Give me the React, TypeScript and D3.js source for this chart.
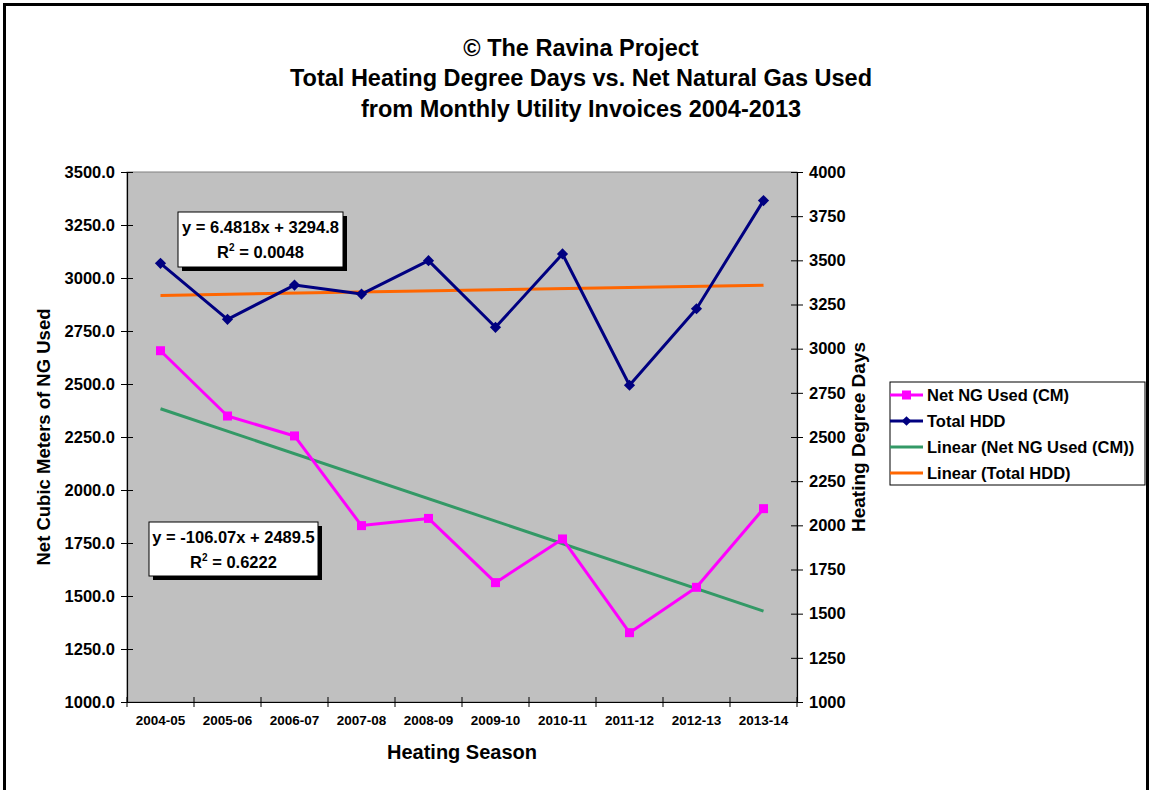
import * as d3 from "d3";
import React, { useEffect, useRef } from "react";

// heating seasons on the x axis
const seasons = ["2004-05", "2005-06", "2006-07", "2007-08", "2008-09", "2009-10", "2010-11", "2011-12", "2012-13", "2013-14"];
// net natural gas used, cubic meters (left axis)
const netNG = [2657, 2349, 2255, 1832, 1866, 1563, 1769, 1327, 1541, 1912];
// total heating degree days (right axis)
const totalHDD = [3483, 3166, 3360, 3309, 3498, 3121, 3536, 2793, 3226, 3838];

const leftTicks = [1000, 1250, 1500, 1750, 2000, 2250, 2500, 2750, 3000, 3250, 3500];
const rightTicks = [1000, 1250, 1500, 1750, 2000, 2250, 2500, 2750, 3000, 3250, 3500, 3750, 4000];

// excel trendline coefficients as printed on the chart
const ngTrend = [-106.07, 2489.5];
const hddTrend = [6.4818, 3294.8];

const legendNames = ["Net NG Used (CM)", "Total HDD", "Linear (Net NG Used (CM))", "Linear (Total HDD)"];
const colors = ["#ff00ff", "#000080", "#339966", "#ff6600"];

const FONT = "'Liberation Sans', Arial, Helvetica, sans-serif";

export default function App() {
    const ref = useRef<SVGSVGElement>(null);

    useEffect(() => {
        const svg = d3.select(ref.current);
        svg.selectAll("*").remove();

        const W = 1151, H = 790;
        const plot = { left: 127, right: 797, top: 172, bottom: 702 };

        svg.append("rect").attr("width", W).attr("height", H).attr("fill", "#fff");
        // outer chart border
        svg.append("rect").attr("x", 4.5).attr("y", 4.5).attr("width", 1143).attr("height", 800)
            .attr("fill", "none").attr("stroke", "#000").attr("stroke-width", 3);

        const titles = ["© The Ravina Project", "Total Heating Degree Days vs. Net Natural Gas Used", "from Monthly Utility Invoices 2004-2013"];
        svg.append("g").selectAll("text").data(titles).enter().append("text")
            .attr("x", 581).attr("y", (d, i) => 55.5 + i * 30.5)
            .attr("text-anchor", "middle")
            .style("font", `bold 23.5px ${FONT}`)
            .text(d => d);

        const x = d3.scaleBand<string>().domain(seasons).range([plot.left, plot.right]).padding(0);
        const yL = d3.scaleLinear().domain([1000, 3500]).range([plot.bottom, plot.top]);
        const yR = d3.scaleLinear().domain([1000, 4000]).range([plot.bottom, plot.top]);
        const cx = (s: string) => (x(s) || 0) + x.bandwidth() / 2;

        svg.append("rect")
            .attr("x", plot.left).attr("y", plot.top)
            .attr("width", plot.right - plot.left).attr("height", plot.bottom - plot.top)
            .attr("fill", "#c0c0c0").attr("stroke", "#808080").attr("stroke-width", 1);

        /*
        axes
        */
        const leftAxis = svg.append("g")
            .attr("transform", `translate(${plot.left},0)`)
            .call(d3.axisLeft(yL).tickValues(leftTicks).tickSize(6).tickPadding(6).tickFormat(d3.format(".1f")));
        const rightAxis = svg.append("g")
            .attr("transform", `translate(${plot.right},0)`)
            .call(d3.axisRight(yR).tickValues(rightTicks).tickSize(6).tickPadding(6).tickFormat(d3.format("d")));
        const xAxis = svg.append("g")
            .attr("transform", `translate(0,${plot.bottom})`)
            .call(d3.axisBottom(x).tickSize(0).tickPadding(13));

        [leftAxis, rightAxis, xAxis].forEach(a => {
            a.select(".domain").attr("stroke", "#000").attr("stroke-width", 1.2);
            a.selectAll("text").style("font", `bold 16.5px ${FONT}`).attr("fill", "#000");
        });
        leftAxis.selectAll(".tick line").attr("x1", 6).attr("stroke", "#000");
        rightAxis.selectAll(".tick line").attr("x1", -6).attr("stroke", "#000");
        xAxis.selectAll("text").style("font", `bold 13.5px ${FONT}`);

        // category boundary ticks on x axis
        const bounds = seasons.map(s => x(s) || 0).concat([plot.right]);
        svg.append("g").selectAll("line").data(bounds).enter().append("line")
            .attr("x1", d => d).attr("x2", d => d)
            .attr("y1", plot.bottom - 5).attr("y2", plot.bottom + 5)
            .attr("stroke", "#000");

        svg.append("text").attr("x", 462).attr("y", 759).attr("text-anchor", "middle")
            .style("font", `bold 20px ${FONT}`).text("Heating Season");
        svg.append("text").attr("transform", `translate(50,437) rotate(-90)`).attr("text-anchor", "middle")
            .style("font", `bold 18.5px ${FONT}`).text("Net Cubic Meters of NG Used");
        svg.append("text").attr("transform", `translate(865,437) rotate(-90)`).attr("text-anchor", "middle")
            .style("font", `bold 19px ${FONT}`).text("Heating Degree Days");

        /*
        trend lines
        */
        const n = seasons.length;
        svg.append("line")
            .attr("x1", cx(seasons[0])).attr("y1", yL(ngTrend[0] * 1 + ngTrend[1]))
            .attr("x2", cx(seasons[n - 1])).attr("y2", yL(ngTrend[0] * n + ngTrend[1]))
            .attr("stroke", colors[2]).attr("stroke-width", 3);
        svg.append("line")
            .attr("x1", cx(seasons[0])).attr("y1", yR(hddTrend[0] * 1 + hddTrend[1]))
            .attr("x2", cx(seasons[n - 1])).attr("y2", yR(hddTrend[0] * n + hddTrend[1]))
            .attr("stroke", colors[3]).attr("stroke-width", 3);

        /*
        data series
        */
        const ngLine = d3.line<number>().x((d, i) => cx(seasons[i])).y(d => yL(d));
        const hddLine = d3.line<number>().x((d, i) => cx(seasons[i])).y(d => yR(d));

        svg.append("path").attr("d", hddLine(totalHDD) || "").attr("fill", "none")
            .attr("stroke", colors[1]).attr("stroke-width", 3).attr("stroke-linejoin", "round");
        svg.append("g").selectAll("path").data(totalHDD).enter().append("path")
            .attr("d", d3.symbol(d3.symbolDiamond2, 80)() || "")
            .attr("transform", (d, i) => `translate(${cx(seasons[i])},${yR(d)})`)
            .attr("fill", colors[1]);

        svg.append("path").attr("d", ngLine(netNG) || "").attr("fill", "none")
            .attr("stroke", colors[0]).attr("stroke-width", 3).attr("stroke-linejoin", "round");
        svg.append("g").selectAll("rect").data(netNG).enter().append("rect")
            .attr("x", (d, i) => cx(seasons[i]) - 4.5).attr("y", d => yL(d) - 4.5)
            .attr("width", 9).attr("height", 9)
            .attr("fill", colors[0]);

        /*
        equation labels
        */
        const drawEq = (bx: number, by: number, bw: number, bh: number, eq: string, r2: string) => {
            const g = svg.append("g");
            g.append("rect").attr("x", bx + 4).attr("y", by + 4).attr("width", bw).attr("height", bh).attr("fill", "#000");
            g.append("rect").attr("x", bx).attr("y", by).attr("width", bw).attr("height", bh)
                .attr("fill", "#fff").attr("stroke", "#000").attr("stroke-width", 1);
            g.append("text").attr("x", bx + bw / 2).attr("y", by + 21).attr("text-anchor", "middle")
                .style("font", `bold 16.5px ${FONT}`).text(eq);
            const t = g.append("text").attr("x", bx + bw / 2).attr("y", by + 46).attr("text-anchor", "middle")
                .style("font", `bold 16.5px ${FONT}`);
            t.append("tspan").text("R");
            t.append("tspan").attr("dy", -7).style("font-size", "10px").text("2");
            t.append("tspan").attr("dy", 7).text(" = " + r2);
        };
        drawEq(178, 212, 165, 55, `y = ${hddTrend[0]}x + ${hddTrend[1]}`, "0.0048");
        drawEq(149, 522, 169, 54, `y = ${ngTrend[0]}x + ${ngTrend[1]}`, "0.6222");

        /*
        legend
        */
        const lg = svg.append("g").attr("transform", "translate(890,382)");
        lg.append("rect").attr("width", 255).attr("height", 103).attr("fill", "#fff")
            .attr("stroke", "#000").attr("stroke-width", 1);
        legendNames.forEach((name, i) => {
            const yy = 13 + i * 26;
            lg.append("line").attr("x1", 0).attr("x2", 33).attr("y1", yy).attr("y2", yy)
                .attr("stroke", colors[i]).attr("stroke-width", 3);
            if (i === 0) {
                lg.append("rect").attr("x", 12).attr("y", yy - 4.5).attr("width", 9).attr("height", 9).attr("fill", colors[0]);
            } else if (i === 1) {
                lg.append("path").attr("d", d3.symbol(d3.symbolDiamond2, 60)() || "")
                    .attr("transform", `translate(16.5,${yy})`).attr("fill", colors[1]);
            }
            lg.append("text").attr("x", 37).attr("y", yy + 6)
                .style("font", `bold 16.5px ${FONT}`).text(name);
        });
    }, []);

    return (
        <div>
            <style>{`body{margin:0}`}</style>
            <svg ref={ref} width={1151} height={790} style={{ display: "block" }} />
        </div>
    );
}
